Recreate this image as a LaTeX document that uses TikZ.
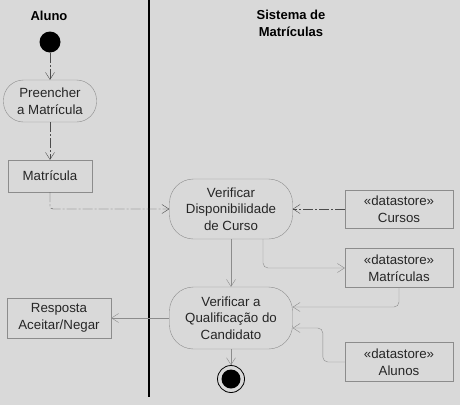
\documentclass[tikz,border=0pt]{standalone}
\usepackage{fontspec}
\setmainfont{Liberation Sans}
\usetikzlibrary{arrows.meta}
\definecolor{bggray}{HTML}{D9D9D9}
\definecolor{linegray}{HTML}{8C8C8C}

\begin{document}
\begin{tikzpicture}[x=1pt,y=-1pt,
    every node/.style={font=\fontsize{13.3}{16.5}\selectfont, text=black!85},
    title/.style={font=\fontsize{13}{17}\selectfont\bfseries, align=center, text=black},
    action/.style={draw=linegray, rounded corners=24pt, align=center, inner sep=2pt},
    object/.style={draw=linegray, align=center, inner sep=2pt},
    flow/.style={draw=linegray, -{Straight Barb[length=7pt,width=9pt]}},
    objflow/.style={flow, draw=black!70, dash pattern=on 10pt off 2pt on 2pt off 2pt},
    ]
    % Background and size
    \fill[bggray] (0,0) rectangle (460,405);
    \useasboundingbox (0,0) rectangle (460,405);

    % Draw swimlanes
    \node (aluno) [title] at (49,16) {Aluno};
    \node (sistema) [title] at (291,23) {Sistema de\\Matrículas};
    \draw [line width=1.3pt] (149,0) coordinate (lane_top) -- (149,397) coordinate (lane_bot);

    % Aluno activities
    \node (start) [circle, fill=black, minimum size=21pt, inner sep=0] at (50,42) {};
    \node (preencher) [action, rounded corners=20pt, minimum width=93pt, minimum height=42pt] at (50,101) {Preencher\\a Matrícula};
    \node (matricula) [object, minimum width=84pt, minimum height=32pt] at (50,176) {Matrícula};
    \node (resposta) [object, minimum width=104pt, minimum height=40pt] at (59,318) {Resposta\\Aceitar/Negar};

    % Sistema activities
    \node (verifdisp) [action, minimum width=123pt, minimum height=60pt] at (231,209) {Verificar\\Disponibilidade\\de Curso};
    \node (verifqual) [action, minimum width=123pt, minimum height=62pt] at (231,318) {Verificar a\\Qualificação do\\Candidato};
    \node (cursos) [object, minimum width=108pt, minimum height=38pt] at (399,209) {«datastore»\\Cursos};
    \node (matriculas) [object, minimum width=108pt, minimum height=39pt] at (399,268) {«datastore»\\Matrículas};
    \node (alunos) [object, minimum width=108pt, minimum height=39pt] at (399,362) {«datastore»\\Alunos};
    \node (final) [circle, draw=black, line width=0.8pt, minimum size=27pt, inner sep=0] at (231,379) {};
    \fill (final) circle (9.5pt);

    \coordinate (qual_in1) at ([yshift=11pt]verifqual.east);
    \coordinate (qual_in2) at ([yshift=-10pt]verifqual.east);
    \coordinate (disp_out) at ([xshift=32pt]verifdisp.south);

    % Flows
    \draw [objflow] (start) -- (preencher);
    \draw [objflow] (preencher) -- (matricula);
    \draw [objflow, rounded corners=3pt] (matricula.south) |- (verifdisp.west);
    \draw [objflow] (cursos.west) -- (verifdisp.east);
    \draw [flow] (verifdisp.south) -- (verifqual.north);
    \draw [flow, rounded corners=5pt] (disp_out) |- (matriculas.west);
    \draw [flow, rounded corners=5pt] (matriculas.south) |- (qual_in1);
    \draw [flow, rounded corners=5pt] (alunos.west) -- ++(-22,0) |- (qual_in2);
    \draw [flow] (verifqual.west) -- (resposta.east);
    \draw [flow] (verifqual.south) -- (final.north);

\end{tikzpicture}
\end{document}
